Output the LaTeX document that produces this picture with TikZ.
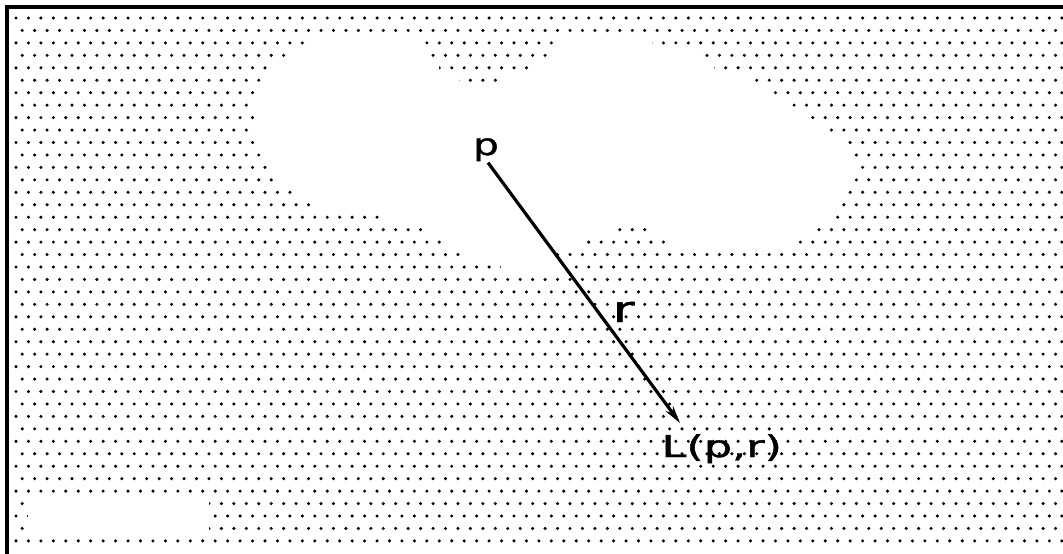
\documentclass[tikz,border=0pt]{standalone}
\usepackage{fontspec}
\setmainfont{DejaVu Sans}
\newfontfamily\plotfont[FakeBold=1.2]{DejaVu Sans}
\usetikzlibrary{arrows.meta}
\begin{document}
\begin{tikzpicture}[x=0.5pt,y=-0.5pt,
  dotmark/.style={fill=black},
  clear/.style={fill=white,draw=none},
  frameline/.style={line width=1.6pt,line cap=rect},
  lbl/.style={inner sep=0pt,font=\fontsize{15}{18}\plotfont,xscale=1.35},
  ray/.style={line width=1.6pt,-{Stealth[length=9pt,width=4.5pt]}}]
\useasboundingbox (0,0) rectangle (1063,553);
% dot screen
\foreach \k in {0,...,42}{
  \pgfmathsetmacro\yy{18+12.45*\k}
  \pgfmathsetmacro\xo{mod(\k,2)==1 ? 22.2 : 16}
  \foreach \j in {0,...,84}{
    \fill[dotmark] (\xo+12.45*\j,\yy) circle[radius=0.85pt];
  }
}
% white cloud
\fill[clear] (310,36.7) -- (420,36.7) -- (420,49.1) -- (431,49.1) -- (431,61.6) -- (439,61.6) -- (439,74) -- (459,74) -- (459,86.5) -- (497,86.5) -- (497,74) -- (532,74) -- (532,61.6) -- (554,61.6) -- (554,49.1) -- (557,49.1) -- (557,36.7) -- (652,36.7) -- (652,49.1) -- (696,49.1) -- (696,61.6) -- (714,61.6) -- (714,74) -- (747,74) -- (747,86.5) -- (767,86.5) -- (767,98.9) -- (786,98.9) -- (786,111.4) -- (804,111.4) -- (804,123.8) -- (824,123.8) -- (824,136.3) -- (842,136.3) -- (842,148.7) -- (848,148.7) -- (848,161.2) -- (854,161.2) -- (854,186.1) -- (841,186.1) -- (841,198.5) -- (835,198.5) -- (835,211) -- (829,211) -- (829,223.4) -- (809,223.4) -- (809,235.9) -- (791,235.9) -- (791,248.3) -- (673,248.3) -- (673,235.9) -- (648,235.9) -- (648,223.4) -- (609,223.4) -- (609,235.9) -- (582,235.9) -- (582,248.3) -- (557,248.3) -- (557,260.8) -- (566,260.8) -- (566,273.2) -- (501,273.2) -- (501,260.8) -- (468,260.8) -- (468,248.3) -- (449,248.3) -- (449,235.9) -- (431,235.9) -- (431,223.4) -- (386,223.4) -- (386,211) -- (316,211) -- (316,198.5) -- (297,198.5) -- (297,186.1) -- (279,186.1) -- (279,173.6) -- (272,173.6) -- (272,161.2) -- (266,161.2) -- (266,148.7) -- (259,148.7) -- (259,136.3) -- (253,136.3) -- (253,123.8) -- (259,123.8) -- (259,111.4) -- (253,111.4) -- (253,98.9) -- (259,98.9) -- (259,86.5) -- (266,86.5) -- (266,74) -- (272,74) -- (272,61.6) -- (291,61.6) -- (291,49.1) -- (310,49.1) -- cycle;
% white box bottom left
\fill[clear] (28,498) rectangle (209,536);
% frame
\draw[frameline] (1063,7) -- (7,7) -- (7,553);
% labels and ray
\node[lbl,anchor=base] (p) at (486,155) {p};
\node[lbl,anchor=base west,font=\fontsize{18}{21}\plotfont,xscale=1.1] (r) at (612,322) {r};
\node[lbl,anchor=base west,xscale=1.1] (L) at (661,457) {L(p,r)};
\coordinate (tip) at (680,423);
\draw[ray] (p.south) ++(2,1) coordinate (start) (start) -- (tip);
\end{tikzpicture}
\end{document}
